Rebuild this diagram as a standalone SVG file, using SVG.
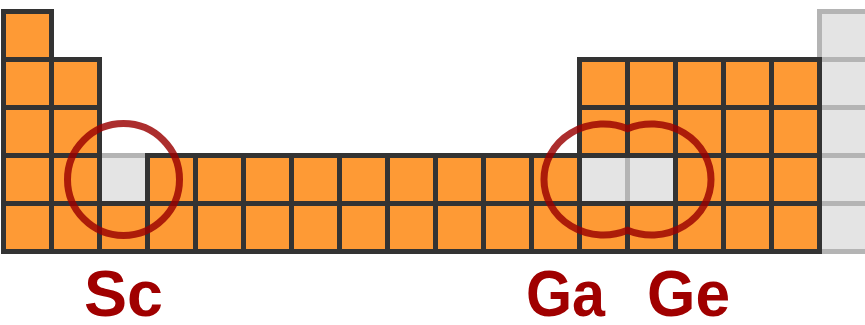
<svg xmlns="http://www.w3.org/2000/svg" width="865" height="325" viewBox="0 0 865 325">
<style>
.o{fill:#fe9a35;stroke:#333333;stroke-width:5}
.g{fill:#e4e4e4;stroke:#b4b4b4;stroke-width:5}
.ring{fill:none;stroke:#9a0000;stroke-opacity:0.82;stroke-width:7}
.lbl{font-family:"Liberation Sans",Arial,sans-serif;font-weight:bold;font-size:64px;fill:#a00000}
</style>
<rect width="865" height="325" fill="#ffffff"/>
<g id="gray-column">
<rect class="g" x="819.5" y="11.5" width="48" height="48"/>
<rect class="g" x="819.5" y="59.5" width="48" height="48"/>
<rect class="g" x="819.5" y="107.5" width="48" height="48"/>
<rect class="g" x="819.5" y="155.5" width="48" height="48"/>
<rect class="g" x="819.5" y="203.5" width="48" height="48"/>
</g>
<g id="missing">
<rect id="cell-Sc" class="g" x="99.5" y="155.5" width="48" height="48"/>
<rect id="cell-Ga" class="g" x="579.5" y="155.5" width="48" height="48"/>
<rect id="cell-Ge" class="g" x="627.5" y="155.5" width="48" height="48"/>
</g>
<g id="known">
<rect class="o" x="3.5" y="11.5" width="48" height="48"/>
<rect class="o" x="3.5" y="59.5" width="48" height="48"/>
<rect class="o" x="51.5" y="59.5" width="48" height="48"/>
<rect class="o" x="579.5" y="59.5" width="48" height="48"/>
<rect class="o" x="627.5" y="59.5" width="48" height="48"/>
<rect class="o" x="675.5" y="59.5" width="48" height="48"/>
<rect class="o" x="723.5" y="59.5" width="48" height="48"/>
<rect class="o" x="771.5" y="59.5" width="48" height="48"/>
<rect class="o" x="3.5" y="107.5" width="48" height="48"/>
<rect class="o" x="51.5" y="107.5" width="48" height="48"/>
<rect class="o" x="579.5" y="107.5" width="48" height="48"/>
<rect class="o" x="627.5" y="107.5" width="48" height="48"/>
<rect class="o" x="675.5" y="107.5" width="48" height="48"/>
<rect class="o" x="723.5" y="107.5" width="48" height="48"/>
<rect class="o" x="771.5" y="107.5" width="48" height="48"/>
<rect class="o" x="3.5" y="155.5" width="48" height="48"/>
<rect class="o" x="51.5" y="155.5" width="48" height="48"/>
<rect class="o" x="147.5" y="155.5" width="48" height="48"/>
<rect class="o" x="195.5" y="155.5" width="48" height="48"/>
<rect class="o" x="243.5" y="155.5" width="48" height="48"/>
<rect class="o" x="291.5" y="155.5" width="48" height="48"/>
<rect class="o" x="339.5" y="155.5" width="48" height="48"/>
<rect class="o" x="387.5" y="155.5" width="48" height="48"/>
<rect class="o" x="435.5" y="155.5" width="48" height="48"/>
<rect class="o" x="483.5" y="155.5" width="48" height="48"/>
<rect class="o" x="531.5" y="155.5" width="48" height="48"/>
<rect class="o" x="675.5" y="155.5" width="48" height="48"/>
<rect class="o" x="723.5" y="155.5" width="48" height="48"/>
<rect class="o" x="771.5" y="155.5" width="48" height="48"/>
<rect class="o" x="3.5" y="203.5" width="48" height="48"/>
<rect class="o" x="51.5" y="203.5" width="48" height="48"/>
<rect class="o" x="99.5" y="203.5" width="48" height="48"/>
<rect class="o" x="147.5" y="203.5" width="48" height="48"/>
<rect class="o" x="195.5" y="203.5" width="48" height="48"/>
<rect class="o" x="243.5" y="203.5" width="48" height="48"/>
<rect class="o" x="291.5" y="203.5" width="48" height="48"/>
<rect class="o" x="339.5" y="203.5" width="48" height="48"/>
<rect class="o" x="387.5" y="203.5" width="48" height="48"/>
<rect class="o" x="435.5" y="203.5" width="48" height="48"/>
<rect class="o" x="483.5" y="203.5" width="48" height="48"/>
<rect class="o" x="531.5" y="203.5" width="48" height="48"/>
<rect class="o" x="579.5" y="203.5" width="48" height="48"/>
<rect class="o" x="627.5" y="203.5" width="48" height="48"/>
<rect class="o" x="675.5" y="203.5" width="48" height="48"/>
<rect class="o" x="723.5" y="203.5" width="48" height="48"/>
<rect class="o" x="771.5" y="203.5" width="48" height="48"/>
</g>
<g id="rings">
<circle id="ring-Sc" class="ring" cx="123.5" cy="179.5" r="56"/>
<path id="ring-GaGe" class="ring" d="M627.5 128.72 A59.5 55.5 0 1 0 627.5 230.28 A59.5 55.5 0 1 0 627.5 128.72 Z"/>
</g>
<g id="labels">
<text id="label-Sc" class="lbl" x="84" y="316" textLength="79" lengthAdjust="spacingAndGlyphs">Sc</text>
<text id="label-Ga" class="lbl" x="526" y="316" textLength="79" lengthAdjust="spacingAndGlyphs">Ga</text>
<text id="label-Ge" class="lbl" x="647" y="316" textLength="83" lengthAdjust="spacingAndGlyphs">Ge</text>
</g>
</svg>
